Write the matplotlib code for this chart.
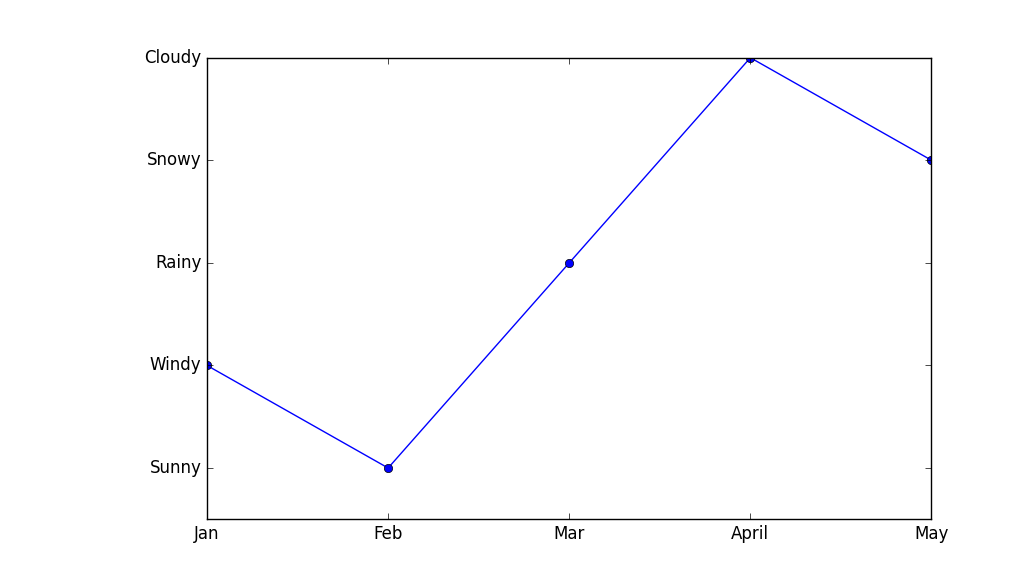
import matplotlib
matplotlib.use("Agg")
import matplotlib.pyplot as plt

months = ["Jan", "Feb", "Mar", "April", "May"]
weather_labels = ["Sunny", "Windy", "Rainy", "Snowy", "Cloudy"]
weather = ["Windy", "Sunny", "Rainy", "Cloudy", "Snowy"]

plt.style.use("classic")

fig, ax = plt.subplots(figsize=(10.35, 5.77), dpi=100)
fig.patch.set_facecolor("white")
fig.subplots_adjust(left=0.2, right=0.9, top=0.9, bottom=0.1)

x = list(range(len(months)))
y = [weather_labels.index(w) for w in weather]
ax.plot(x, y, "bo-", markersize=6)

ax.set_xticks(x)
ax.set_xticklabels(months)
ax.set_yticks(range(len(weather_labels)))
ax.set_yticklabels(weather_labels)
ax.set_xlim(0, len(months) - 1)
ax.set_ylim(-0.5, len(weather_labels) - 1)

fig.savefig("out.png", dpi=100, facecolor="white")
